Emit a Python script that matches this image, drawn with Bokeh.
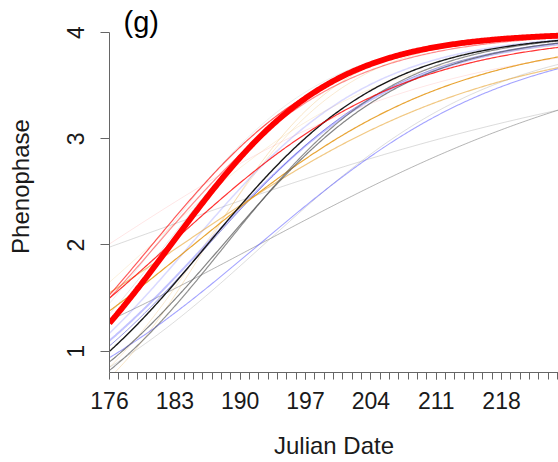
import numpy as np
from bokeh.plotting import figure
from bokeh.models import Range1d, FixedTicker, Label
from bokeh.embed import file_html
from bokeh.resources import INLINE

# Each curve is a fitted logistic (upper asymptote 4).
# phenophase at day 176 (left edge) and at day 224 (right edge).
first_day = 176
last_day = 224.1
upper_asymptote = 4.0

start_values = [1.98, 1.29, 0.85, 2.01, 1.65, 0.75, 0.85, 1.35, 1.45,
                1.17, 1.10, 0.94, 1.05, 1.55, 1.38, 0.82, 0.90, 1.00,
                1.50, 1.50, 1.53, 1.265]
end_values = [3.27, 3.27, 3.70, 3.76, 3.88, 3.98, 3.97, 3.965, 3.97,
              3.93, 3.89, 3.66, 3.90, 3.67, 3.77, 3.92, 3.90, 3.925,
              3.86, 3.95, 3.96, 3.97]

# styles
colors = ["#999999", "#808080", "#aaaaaa", "#FF0000", "#E69A1E", "#E69A1E", "#E69A1E",
          "#888888", "#888888", "#6666FF", "#6666FF", "#6666FF", "#3333CC", "#E69A1E",
          "#E69A1E", "#606060", "#505050", "#000000", "#FF0000", "#FF0000", "#FF0000",
          "#FF0000"]
alphas = [0.35, 0.6, 0.4, 0.1, 0.15, 0.25, 0.2, 0.2, 0.15, 0.25, 0.4, 0.6, 0.5,
          0.55, 0.9, 0.7, 0.7, 0.9, 0.8, 0.45, 0.65, 1.0]
widths = [1.0, 1.0, 1.0, 1.0, 1.0, 1.0, 1.0, 1.0, 1.0, 1.5, 2.0, 1.1, 1.0,
          1.2, 1.2, 1.2, 1.2, 1.4, 1.2, 1.2, 1.2, 5.8]

x_ticks = [176, 183, 190, 197, 204, 211, 218]
x_minor_ticks = list(range(177, 225))
y_ticks = [1, 2, 3, 4]
panel_label = "(g)"
x_title = "Julian Date"
y_title = "Phenophase"

FONT = "Liberation Sans"

p = figure(width=558, height=462, x_range=Range1d(first_day, last_day),
           y_range=Range1d(0.8, 4.301), output_backend="svg", toolbar_location=None,
           min_border_left=109, min_border_right=0, min_border_top=0,
           min_border_bottom=90)
p.xgrid.visible = False
p.ygrid.visible = False
p.outline_line_color = None
p.background_fill_color = "white"
p.border_fill_color = "white"


def logit(v):
    return -np.log(upper_asymptote / v - 1.0)


days = np.linspace(first_day, last_day, 300)
for y0, y1, c, a, w in zip(start_values, end_values, colors, alphas, widths):
    z0, z1 = logit(y0), logit(y1)
    rate = (z1 - z0) / (last_day - first_day)
    z = z0 + rate * (days - first_day)
    y = upper_asymptote / (1.0 + np.exp(-z))
    p.line(days, y, line_color=c, line_alpha=a, line_width=w)

for ax in (p.xaxis[0], p.yaxis[0]):
    ax.axis_line_color = "#666666"
    ax.major_tick_line_color = "#666666"
    ax.minor_tick_line_color = "#666666"
    ax.major_label_text_font = FONT
    ax.major_label_text_font_size = "23px"
    ax.major_label_text_color = "#1a1a1a"
    ax.axis_label_text_font = FONT
    ax.axis_label_text_font_size = "24px"
    ax.axis_label_text_font_style = "normal"
    ax.axis_label_text_color = "#1a1a1a"

p.xaxis.ticker = FixedTicker(ticks=x_ticks, minor_ticks=x_minor_ticks)
p.xaxis.major_tick_out = 7
p.xaxis.major_tick_in = 0
p.xaxis.minor_tick_out = 7
p.xaxis.minor_tick_in = 0
p.xaxis.major_label_standoff = 12
p.xaxis.axis_label = x_title
p.xaxis.axis_label_standoff = 20

p.yaxis.bounds = (0.8, 4.0)
p.yaxis.ticker = FixedTicker(ticks=y_ticks, minor_ticks=[])
p.yaxis.major_tick_out = 9
p.yaxis.major_tick_in = 0
p.yaxis.minor_tick_out = 0
p.yaxis.minor_tick_in = 0
p.yaxis.major_label_orientation = "vertical"
p.yaxis.major_label_standoff = 16
p.yaxis.axis_label = y_title
p.yaxis.axis_label_standoff = 31

p.add_layout(Label(x=177.5, y=4.10, text=panel_label, text_font=FONT,
                   text_font_size="29px", text_baseline="middle",
                   text_align="left", text_color="#000000"))

open("out.html", "w").write(file_html(p, INLINE))
